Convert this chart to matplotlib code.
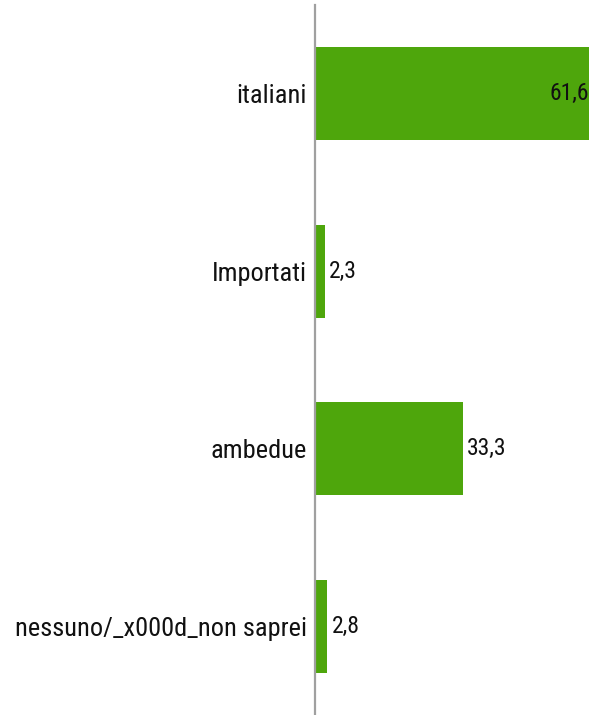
import matplotlib.pyplot as plt
from matplotlib import font_manager

categories = ['italiani', 'Importati', 'ambedue', 'nessuno/_x000d_non saprei']
values = [61.6, 2.3, 33.3, 2.8]
value_labels = ['61,6', '2,3', '33,3', '2,8']

# narrow font like the original, whichever is available
names = {f.name for f in font_manager.fontManager.ttflist}
fam = 'Liberation Sans'
for cand in ['Liberation Sans Narrow', 'Arimo Narrow', 'Roboto Condensed', 'Archivo Narrow']:
    if cand in names:
        fam = cand
        break
plt.rcParams['font.family'] = [fam, 'DejaVu Sans']

fig = plt.figure(figsize=(5.89, 7.15), dpi=100)
ax = fig.add_axes([315 / 589, 0, 1 - 315 / 589, 710 / 715])

ypos = list(range(len(categories)))
ax.barh(ypos, values, height=0.524, color='#4ea60c')
ax.set_ylim(len(categories) - 0.5, -0.5)
ax.set_xlim(0, 61.6)

ax.set_yticks(ypos)
ax.set_yticklabels(categories, fontsize=19, color='#111111')
ax.tick_params(axis='y', length=0, pad=6)
ax.set_xticks([])

for s in ['top', 'right', 'bottom']:
    ax.spines[s].set_visible(False)
ax.spines['left'].set_color('#a0a0a0')
ax.spines['left'].set_linewidth(1.6)

for y, v, lab in zip(ypos, values, value_labels):
    if v > 50:
        ax.text(v - 0.1, y, lab, ha='right', va='center', fontsize=17, color='#111111')
    else:
        ax.text(v + 0.9, y, lab, ha='left', va='center', fontsize=17, color='#111111')

fig.savefig('out.png', dpi=100)
